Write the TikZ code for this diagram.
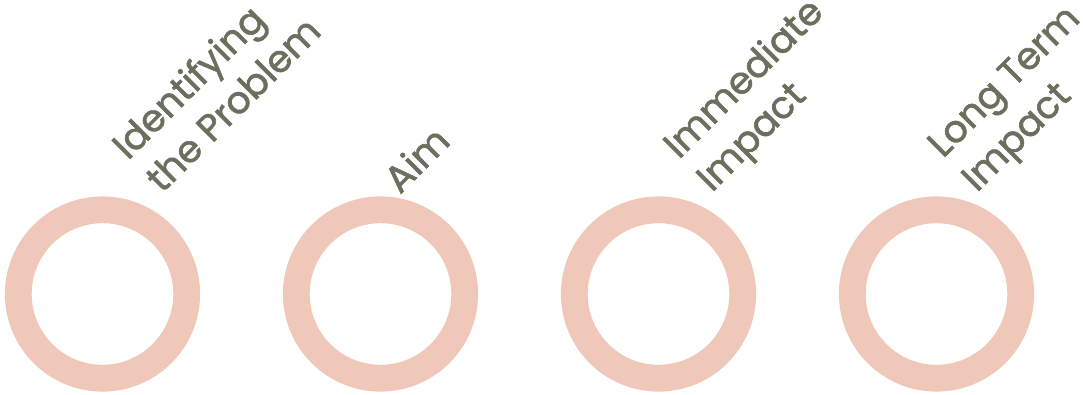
\documentclass[tikz,border=0pt]{standalone}
\usepackage{fontspec}
\setmainfont{Poppins}
\newfontfamily\lblfont{Poppins}[FakeBold=1.6]
\definecolor{ringcol}{HTML}{EFC8BA}
\definecolor{txtcol}{HTML}{6E6E5E}
\begin{document}
\begin{tikzpicture}[x=1pt,y=-1pt,
  ringnode/.style={draw=ringcol, line width=26.8pt, circle, minimum size=168.4pt, inner sep=0pt},
  lbl/.style={text=txtcol, font=\lblfont\fontsize{37.5}{40}\selectfont, rotate=45, anchor=base west, inner sep=0pt}]
\useasboundingbox (0,0) rectangle (1083,394);
\node[ringnode] (c1) at (102.5,294) {};
\node[ringnode] (c2) at (380.5,294) {};
\node[ringnode] (c3) at (658.5,294) {};
\node[ringnode] (c4) at (936.5,294) {};
\node[lbl] (l1a) at (128,161) {Identifying};
\node[lbl] (l1b) at (162,194) {the Problem};
\node[lbl] (l2a) at (400,195) {Aim};
\node[lbl] (l3a) at (679,160) {Immediate};
\node[lbl] (l3b) at (712,193) {Impact};
\node[lbl] (l4a) at (943,159) {Long Term};
\node[lbl] (l4b) at (977,193) {Impact};
\end{tikzpicture}
\end{document}
